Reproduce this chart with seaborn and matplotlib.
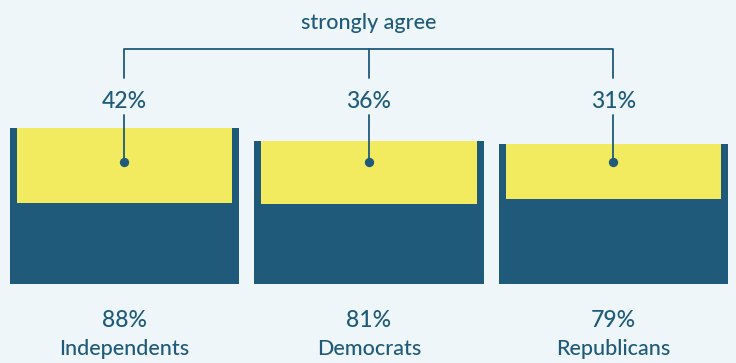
import pandas as pd
import numpy as np
import seaborn as sns
import matplotlib.pyplot as plt

# data
parties = ['Independents', 'Democrats', 'Republicans']
agree = [88, 81, 79]
strongly_agree = [42, 36, 31]

dark = '#1f5a7a'
yellow = '#f3eb5f'
bg = '#eef6f9'

sns.set_theme(style='white')
plt.rcParams['font.family'] = ['Lato', 'DejaVu Sans']

df = pd.DataFrame({'party': parties, 'agree': agree, 'strong': strongly_agree})

fig = plt.figure(figsize=(7.36, 3.63), dpi=100, facecolor=bg)
ax = fig.add_axes([0, 0, 1, 1])
ax.set_facecolor(bg)

# dark bars = total agree
sns.barplot(data=df, x='party', y='agree', color=dark, saturation=1,
            width=0.937, errorbar=None, linewidth=0, ax=ax)

# yellow part = strongly agree, hanging from the top of each bar
xs = np.arange(len(df))
ax.bar(xs, df['strong'], bottom=df['agree'] - df['strong'], width=0.883,
       color=yellow, linewidth=0, zorder=3)

# bracket + leader lines
lc = dict(color=dark, lw=1.3, zorder=4)
ax.plot([xs[0], xs[0], xs[-1], xs[-1]], [116.4, 132.8, 132.8, 116.4], **lc)
ax.plot([xs[1], xs[1]], [132.8, 116.4], **lc)
for x, s in zip(xs, df['strong']):
    ax.plot([x, x], [95.5, 68.9], **lc)
    ax.scatter([x], [68.9], s=45, color=dark, zorder=5, linewidths=0)
    ax.text(x, 99.4, f'{s}%', ha='center', va='baseline', fontsize=16.5,
            color=dark, fontweight='medium')

ax.text(1, 144.3, 'strongly agree', ha='center', va='baseline', fontsize=15.5,
        color=dark, fontweight='medium')

for x, a, p in zip(xs, df['agree'], df['party']):
    ax.text(x, -24.3, f'{a}%', ha='center', va='baseline', fontsize=16.5,
            color=dark, fontweight='medium')
    ax.text(x, -40.0, p, ha='center', va='baseline', fontsize=15.5,
            color=dark, fontweight='medium')

ax.set_xlim(-0.509, 2.501)
ax.set_ylim(-44.6, 160.5)
ax.axis('off')

fig.savefig('out.png', dpi=100, facecolor=bg)
